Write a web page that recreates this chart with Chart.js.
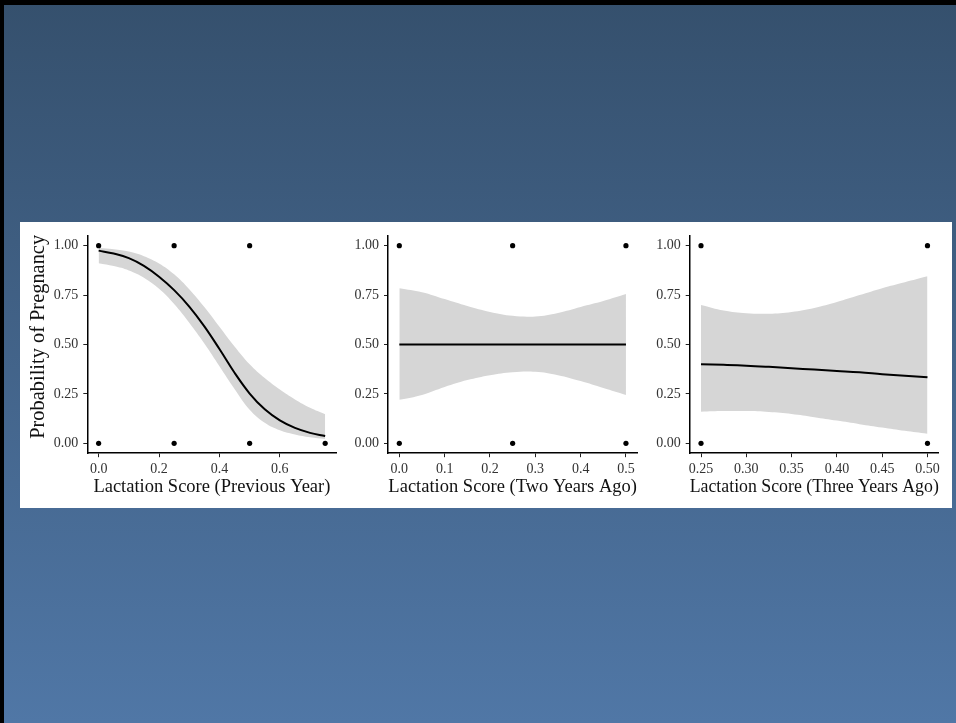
<!DOCTYPE html>
<html>
<head>
<meta charset="utf-8">
<script src="https://cdn.jsdelivr.net/npm/chart.js@4.4.0/dist/chart.umd.min.js"></script>
<style>
body { margin: 0; width: 956px; height: 723px; overflow: hidden; position: relative;
       background: linear-gradient(#35506d, #5077a6); }
#frame { position: absolute; left: 0; top: 0; width: 956px; height: 723px; box-sizing: border-box;
         border-top: 5px solid #000; border-left: 4px solid #000; }
#panel { position: absolute; left: 20px; top: 222px; width: 932px; height: 286px; background: #fff; }
canvas { position: absolute; }
</style>
</head>
<body>
<div id="frame"></div>
<div id="panel"></div>
<canvas id="prevChart" width="319" height="283" style="left:22px;top:222px"></canvas>
<canvas id="twoChart" width="302" height="283" style="left:340px;top:222px"></canvas>
<canvas id="threeChart" width="302" height="283" style="left:645px;top:222px"></canvas>
<script>
// shared y ticks
const yTicks = [0, 0.25, 0.5, 0.75, 1];

// Lactation Score (Previous Year)
const prevX     = [0, 0.05, 0.1, 0.15, 0.2, 0.25, 0.3, 0.35, 0.4, 0.45, 0.5, 0.55, 0.6, 0.65, 0.7, 0.75];
const prevFit   = [0.975, 0.96, 0.937, 0.898, 0.843, 0.775, 0.692, 0.592, 0.477, 0.357, 0.252, 0.172, 0.116, 0.078, 0.053, 0.037];
const prevUpper = [0.988, 0.982, 0.97, 0.947, 0.91, 0.855, 0.78, 0.69, 0.59, 0.49, 0.40, 0.33, 0.272, 0.222, 0.18, 0.147];
const prevLower = [0.911, 0.897, 0.875, 0.838, 0.782, 0.705, 0.61, 0.505, 0.39, 0.275, 0.17, 0.104, 0.066, 0.045, 0.031, 0.022];
const prevObsX  = [0, 0.25, 0.5, 0, 0.25, 0.5, 0.75];
const prevObsY  = [1, 1, 1, 0, 0, 0, 0];
const prevTicks = [0, 0.2, 0.4, 0.6];

// Lactation Score (Two Years Ago)
const twoX     = [0, 0.05, 0.1, 0.15, 0.2, 0.25, 0.3, 0.35, 0.4, 0.45, 0.5];
const twoFit   = [0.5, 0.5, 0.5, 0.5, 0.5, 0.5, 0.5, 0.5, 0.5, 0.5, 0.5];
const twoUpper = [0.785, 0.765, 0.73, 0.695, 0.665, 0.645, 0.642, 0.66, 0.69, 0.72, 0.755];
const twoLower = [0.22, 0.245, 0.285, 0.32, 0.345, 0.36, 0.362, 0.345, 0.315, 0.28, 0.245];
const twoObsX  = [0, 0.25, 0.5, 0, 0.25, 0.5];
const twoObsY  = [1, 1, 1, 0, 0, 0];
const twoTicks = [0, 0.1, 0.2, 0.3, 0.4, 0.5];

// Lactation Score (Three Years Ago)
const threeX     = [0.25, 0.275, 0.3, 0.325, 0.35, 0.375, 0.4, 0.425, 0.45, 0.475, 0.5];
const threeFit   = [0.40, 0.397, 0.393, 0.387, 0.38, 0.373, 0.366, 0.359, 0.35, 0.342, 0.334];
const threeUpper = [0.70, 0.672, 0.658, 0.656, 0.665, 0.685, 0.715, 0.75, 0.785, 0.815, 0.845];
const threeLower = [0.16, 0.163, 0.163, 0.158, 0.148, 0.132, 0.115, 0.097, 0.08, 0.063, 0.048];
const threeObsX  = [0.25, 0.5, 0.25, 0.5];
const threeObsY  = [1, 1, 0, 0];
const threeTicks = [0.25, 0.3, 0.35, 0.4, 0.45, 0.5];

const serif = "'Liberation Serif', 'Times New Roman', serif";

function pts(xs, ys) {
    return xs.map((x, i) => ({x: x, y: ys[i]}));
}

function makeChart(id, o) {
    const ctx = document.getElementById(id).getContext('2d');
    return new Chart(ctx, {
        type: 'line',
        data: {
            datasets: [
                {
                    data: pts(o.obsX, o.obsY),
                    showLine: false,
                    pointRadius: 2.6,
                    pointBackgroundColor: '#000',
                    pointBorderWidth: 0,
                    order: 0
                },
                {
                    data: pts(o.x, o.fit),
                    borderColor: '#000',
                    borderWidth: 2,
                    pointRadius: 0,
                    tension: 0.4,
                    order: 1
                },
                {
                    data: pts(o.x, o.upper),
                    borderWidth: 0,
                    pointRadius: 0,
                    backgroundColor: '#d6d6d6',
                    fill: '+1',
                    tension: 0.4,
                    order: 2
                },
                {
                    data: pts(o.x, o.lower),
                    borderWidth: 0,
                    pointRadius: 0,
                    fill: false,
                    tension: 0.4,
                    order: 3
                }
            ]
        },
        options: {
            responsive: false,
            animation: false,
            devicePixelRatio: 1,
            layout: { padding: { top: 13.8, right: o.padRight, left: 0, bottom: 0 } },
            plugins: { legend: { display: false }, tooltip: { enabled: false } },
            scales: {
                x: {
                    type: 'linear',
                    min: o.xMin,
                    max: o.xMax,
                    afterBuildTicks: s => { s.ticks = o.ticks.map(v => ({value: v})); },
                    afterFit: s => { s.height = 51.8; },
                    grid: { drawOnChartArea: false, drawTicks: true, tickLength: 4, color: '#222', lineWidth: 1 },
                    border: { display: true, color: '#000', width: 1.5 },
                    ticks: {
                        padding: 4,
                        maxRotation: 0,
                        color: '#333',
                        font: { family: serif, size: 14 },
                        callback: v => v.toFixed(o.digits)
                    },
                    title: {
                        display: true,
                        text: o.title,
                        color: '#111',
                        font: { family: serif, size: 18.5 },
                        padding: { top: 0, bottom: 7.2 }
                    }
                },
                y: {
                    min: -0.05,
                    max: 1.05,
                    afterBuildTicks: s => { s.ticks = yTicks.map(v => ({value: v})); },
                    afterFit: s => { s.width = o.yWidth; },
                    grid: { drawOnChartArea: false, drawTicks: true, tickLength: 4, color: '#222', lineWidth: 1 },
                    border: { display: true, color: '#000', width: 1.5 },
                    ticks: {
                        padding: 5,
                        color: '#333',
                        font: { family: serif, size: 14 },
                        callback: v => v.toFixed(2)
                    },
                    title: {
                        display: !!o.yTitle,
                        text: o.yTitle || '',
                        color: '#111',
                        font: { family: serif, size: 20.4 },
                        padding: { top: 4.5, bottom: 0 }
                    }
                }
            }
        }
    });
}

makeChart('prevChart', {
    x: prevX, fit: prevFit, upper: prevUpper, lower: prevLower,
    obsX: prevObsX, obsY: prevObsY, ticks: prevTicks, digits: 1,
    xMin: -0.0375, xMax: 0.7875, yWidth: 65.3, padRight: 4.5,
    title: 'Lactation Score (Previous Year)', yTitle: ' \u2002Probability of Pregnancy'
});

makeChart('twoChart', {
    x: twoX, fit: twoFit, upper: twoUpper, lower: twoLower,
    obsX: twoObsX, obsY: twoObsY, ticks: twoTicks, digits: 1,
    xMin: -0.025, xMax: 0.525, yWidth: 48, padRight: 4.7,
    title: 'Lactation Score (Two Years Ago)'
});

makeChart('threeChart', {
    x: threeX, fit: threeFit, upper: threeUpper, lower: threeLower,
    obsX: threeObsX, obsY: threeObsY, ticks: threeTicks, digits: 2,
    xMin: 0.2375, xMax: 0.5125, yWidth: 44.7, padRight: 8.2,
    title: 'Lactation Score (Three Years Ago)'
});
</script>
</body>
</html>
